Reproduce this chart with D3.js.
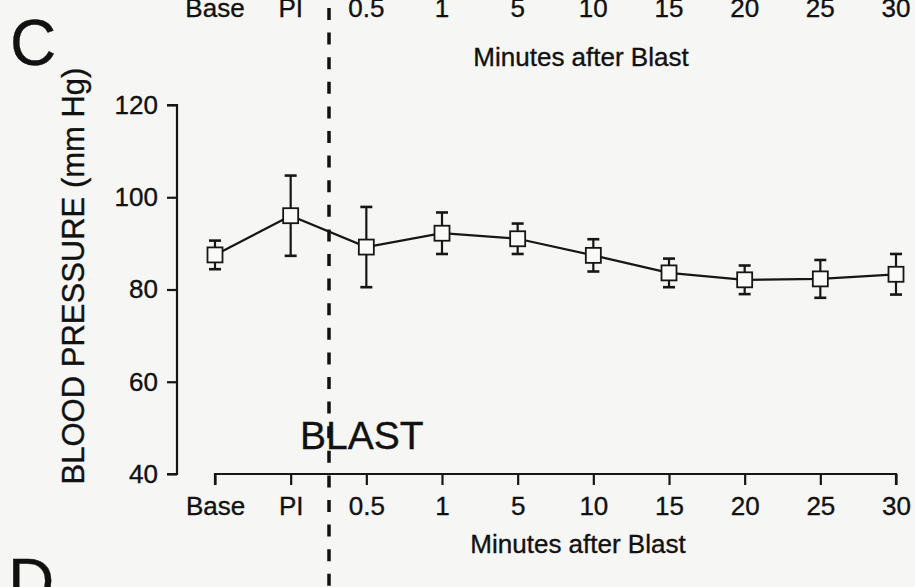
<!DOCTYPE html>
<html>
<head>
<meta charset="utf-8">
<script src="https://cdn.jsdelivr.net/npm/d3@7"></script>
<style>
html,body{margin:0;padding:0;background:#f6f6f4;}
svg{display:block;}
text{font-family:"Liberation Sans",Arial,sans-serif;fill:#111;stroke:#111;stroke-width:0.35px;}
</style>
</head>
<body>
<svg id="chart" width="915" height="587"></svg>
<script>
// ---- data ----
const categories = ["Base","PI","0.5","1","5","10","15","20","25","30"];
const means      = [87.5, 96.0, 89.2, 92.2, 91.0, 87.4, 83.6, 82.1, 82.3, 83.3];
const errors     = [3.1, 8.7, 8.7, 4.5, 3.3, 3.5, 3.1, 3.1, 4.1, 4.4];
const yTicks     = [40, 60, 80, 100, 120];
const xTitle = "Minutes after Blast";
const yTitle = "BLOOD PRESSURE (mm Hg)";

const svg = d3.select("#chart");
const ink = "#161616";

const x = d3.scalePoint().domain(categories).range([215, 896]);
const y = d3.scaleLinear().domain([40, 120]).range([474, 105]);

// background
svg.append("rect").attr("width",915).attr("height",587).attr("fill","#f6f6f4");

// panel letters
svg.append("text").attr("x",10).attr("y",65).attr("font-size",64).text("C");
svg.append("text").attr("x",8).attr("y",604).attr("font-size",64).text("D");

// top remnant of previous panel's axis labels
svg.append("g").selectAll("text").data(categories).join("text")
  .attr("x", d => x(d)).attr("y", 17).attr("text-anchor","middle")
  .attr("font-size",26).text(d => d);
svg.append("text").attr("x",581).attr("y",66).attr("text-anchor","middle")
  .attr("font-size",26).text(xTitle);

// y axis
const yAxis = d3.axisLeft(y).tickValues(yTicks).tickSize(10).tickPadding(9);
const gy = svg.append("g").attr("transform","translate(177,0)").call(yAxis);
gy.select(".domain").attr("d","M-10,105H0V474H-10").attr("stroke",ink).attr("stroke-width",2.2).attr("fill","none");
gy.selectAll(".tick line").attr("stroke",ink).attr("stroke-width",2.2);
gy.selectAll(".tick text").attr("font-size",26).attr("fill","#111")
  .attr("font-family","'Liberation Sans',Arial,sans-serif");

// x axis
const xAxis = d3.axisBottom(x).tickSize(11).tickPadding(12);
const gx = svg.append("g").attr("transform","translate(0,474)").call(xAxis);
gx.select(".domain").attr("d","M215,11V0H896V11").attr("stroke",ink).attr("stroke-width",2.2).attr("fill","none");
gx.selectAll(".tick line").attr("stroke",ink).attr("stroke-width",2.2);
gx.selectAll(".tick text").attr("font-size",26).attr("fill","#111")
  .attr("font-family","'Liberation Sans',Arial,sans-serif");

// axis titles
svg.append("text").attr("x",578).attr("y",553).attr("text-anchor","middle")
  .attr("font-size",26).text(xTitle);
svg.append("text").attr("transform","translate(84,276) rotate(-90)")
  .attr("text-anchor","middle").attr("font-size",31).text(yTitle);

// blast dashed line
svg.append("line").attr("x1",329).attr("x2",329).attr("y1",8).attr("y2",587)
  .attr("stroke","#111").attr("stroke-width",3.5).attr("stroke-dasharray","12,12.6");
svg.append("text").attr("x",300).attr("y",449).attr("font-size",39).text("BLAST");

// data
const pts = categories.map((c,i) => ({c, m: means[i], e: errors[i]}));

// connecting line
svg.append("path").datum(pts)
  .attr("d", d3.line().x(d => x(d.c)).y(d => y(d.m)))
  .attr("fill","none").attr("stroke",ink).attr("stroke-width",2.2);

// error bars
const eb = svg.append("g").selectAll("g").data(pts).join("g");
eb.append("line").attr("x1",d=>x(d.c)).attr("x2",d=>x(d.c))
  .attr("y1",d=>y(d.m+d.e)).attr("y2",d=>y(d.m-d.e))
  .attr("stroke",ink).attr("stroke-width",2.2);
eb.append("line").attr("x1",d=>x(d.c)-6).attr("x2",d=>x(d.c)+6)
  .attr("y1",d=>y(d.m+d.e)).attr("y2",d=>y(d.m+d.e))
  .attr("stroke",ink).attr("stroke-width",2.6);
eb.append("line").attr("x1",d=>x(d.c)-6).attr("x2",d=>x(d.c)+6)
  .attr("y1",d=>y(d.m-d.e)).attr("y2",d=>y(d.m-d.e))
  .attr("stroke",ink).attr("stroke-width",2.6);

// square markers
svg.append("g").selectAll("rect").data(pts).join("rect")
  .attr("x",d=>x(d.c)-7.5).attr("y",d=>y(d.m)-7.5)
  .attr("width",15).attr("height",15)
  .attr("fill","#fafaf9").attr("stroke",ink).attr("stroke-width",1.8);
</script>
</body>
</html>
